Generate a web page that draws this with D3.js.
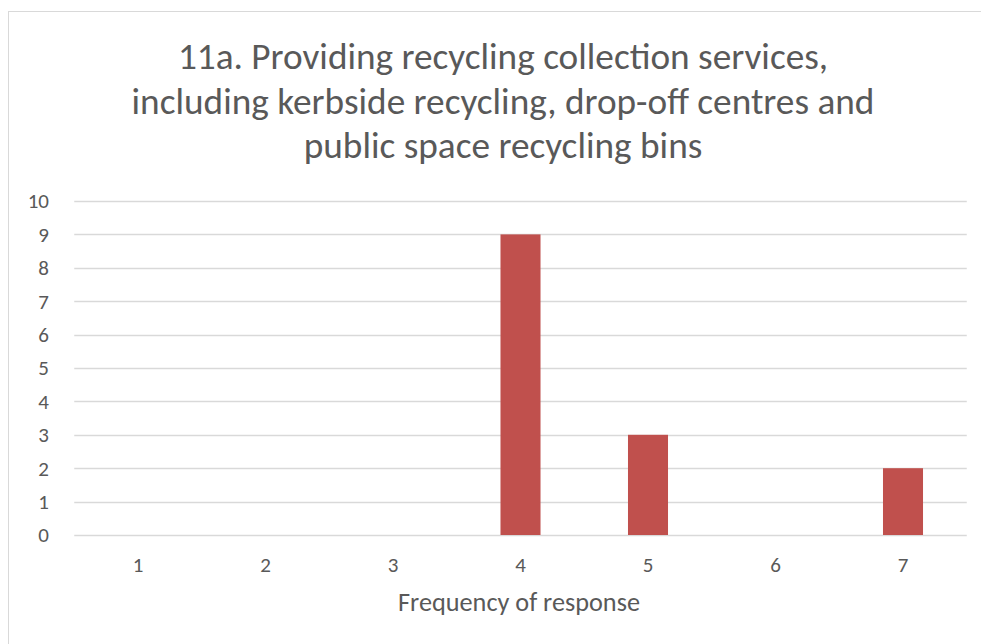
<!DOCTYPE html>
<html><head><meta charset="utf-8">
<script src="https://cdn.jsdelivr.net/npm/d3@7"></script>
<style>body{margin:0;background:#fff;} text{font-family:"Carlito","Calibri","Open Sans",sans-serif;}</style>
</head><body>
<svg id="c" width="981" height="644"></svg>
<script>
const categories = ["1","2","3","4","5","6","7"];
const values = [0,0,0,9,3,0,2];
const yTicks = [0,1,2,3,4,5,6,7,8,9,10];
const titleLines = ["11a. Providing recycling collection services,","including kerbside recycling, drop-off centres and","public space recycling bins"];
const xTitle = "Frequency of response";

const svg = d3.select("#c");
svg.append("rect").attr("x",8.5).attr("y",11.5).attr("width",990).attr("height",700)
  .attr("fill","#fff").attr("stroke","#d9d9d9").attr("stroke-width",1);

const m = {l:74.25, r:966.75, t:201, b:535};
const x = d3.scaleBand().domain(categories).range([m.l,m.r]).paddingInner(0.686).paddingOuter(0.343);
const y = d3.scaleLinear().domain([0,10]).range([m.b,m.t]);

const g = svg.append("g");
g.selectAll("line.grid").data(yTicks).join("line")
  .attr("x1",m.l).attr("x2",m.r).attr("y1",d=>Math.round(y(d))+0.5).attr("y2",d=>Math.round(y(d))+0.5)
  .attr("stroke","#d9d9d9").attr("stroke-width",1.3);

const yAxis = d3.axisLeft(y).tickValues(yTicks).tickSize(0).tickPadding(0);
const ya = svg.append("g").attr("transform","translate(49,0)").call(yAxis);
ya.attr("font-size",21).attr("font-family",null);
ya.select(".domain").remove();
ya.selectAll("text").attr("fill","#595959").attr("font-size",21).style("font-size","21px").attr("dy","0.33em");

g.selectAll("rect.bar").data(values).join("rect")
  .attr("x",(d,i)=>x(categories[i])).attr("width",x.bandwidth())
  .attr("y",d=>y(d)).attr("height",d=>y(0)-y(d)).attr("fill","#C0504D");

const xAxis = d3.axisBottom(x).tickSize(0).tickPadding(0);
const xa = svg.append("g").attr("transform","translate(0,572)").call(xAxis);
xa.attr("font-size",21).attr("font-family",null);
xa.select(".domain").remove();
xa.selectAll("text").attr("fill","#595959").attr("font-size",21).style("font-size","21px").attr("dy",0);

const xt = svg.append("text").attr("x",519).attr("y",611).attr("text-anchor","middle")
  .attr("fill","#595959").style("font-size","20px").text(xTitle);
const xw = xt.node().getComputedTextLength();
xt.style("font-size",(20*242/xw)+"px");

const tg = svg.append("g");
const tl = tg.selectAll("text").data(titleLines).join("text")
  .attr("x",503).attr("y",(d,i)=>69+i*44.5).attr("text-anchor","middle")
  .attr("fill","#595959").style("font-size","31px").text(d=>d);
const w = tl.nodes()[1].getComputedTextLength();
tl.style("font-size",(31*743/w)+"px");
</script>
</body></html>
